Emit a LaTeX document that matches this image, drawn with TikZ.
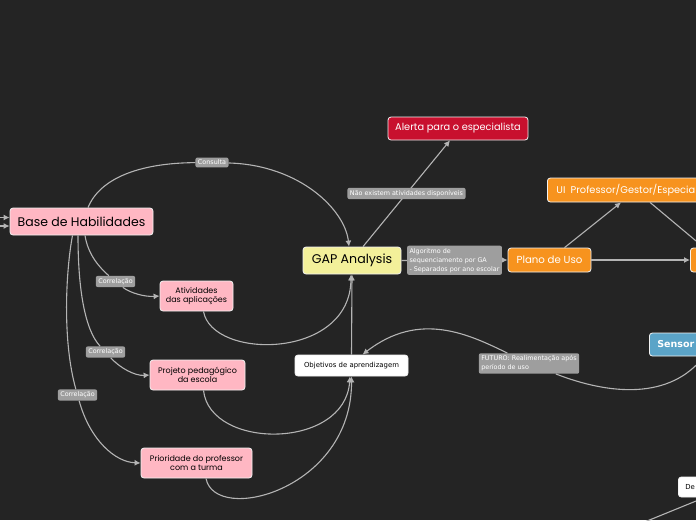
\documentclass[tikz,border=0pt]{standalone}
\usepackage{fontspec}
\setmainfont{DejaVu Sans}
\newfontfamily\popfont{Poppins}
\usetikzlibrary{arrows.meta,positioning}

\definecolor{bgdark}{HTML}{242424}
\definecolor{wire}{HTML}{B4B4B4}
\definecolor{tagfill}{HTML}{9E9E9E}
\definecolor{pinkbox}{HTML}{FFB7C3}
\definecolor{gapyellow}{HTML}{F3F09A}
\definecolor{alertred}{HTML}{C8102E}
\definecolor{planorange}{HTML}{F7931E}
\definecolor{sensorblue}{HTML}{5BA4C8}

\begin{document}
\begin{tikzpicture}[x=1pt, y=-1pt, >={Latex[length=6pt,width=6pt]},
  topic/.style={draw=white!90!gray, line width=0.8pt, rounded corners=3pt, inner sep=0pt, align=center, font=\popfont\fontsize{8}{9}\selectfont},
  pinktopic/.style={topic, fill=pinkbox, text=black},
  orangetopic/.style={topic, fill=planorange, text=white, font=\popfont\fontsize{10.2}{12}\selectfont},
  whitetopic/.style={topic, fill=white, text=black, font=\fontsize{6.9}{8}\selectfont},
  tag/.style={fill=tagfill, rounded corners=2pt, text=white, inner xsep=2.5pt, inner ysep=2.5pt, align=left, font=\fontsize{6.4}{9}\selectfont},
  link/.style={draw=wire, line width=1.1pt}]

\useasboundingbox (0,0) rectangle (696,520);
\fill[bgdark] (0,0) rectangle (696,520);
\clip (0,0) rectangle (696,520);

% main topics
\node[pinktopic, minimum width=143pt, minimum height=27pt, font=\popfont\fontsize{12.5}{14}\selectfont] (base) at (81.5,221.5) {Base de Habilidades};
\node[topic, fill=gapyellow, minimum width=98pt, minimum height=27pt, font=\popfont\fontsize{12.6}{14}\selectfont] (gap) at (352,260.5) {GAP Analysis};
\node[topic, fill=alertred, text=white, minimum width=140pt, minimum height=23pt, font=\popfont\fontsize{9.8}{11}\selectfont] (alerta) at (458,128.5) {Alerta para o especialista};
\node[orangetopic, minimum width=83pt, minimum height=24pt] (plano) at (549.5,260) {Plano de Uso};
\node[orangetopic, anchor=west, minimum height=24pt, inner xsep=9pt, font=\popfont\fontsize{9.8}{11}\selectfont] (ui) at (547,190) {UI\ \ Professor/Gestor/Especia};
\node[orangetopic, anchor=west, minimum width=30pt, minimum height=24pt] (orng) at (690,260) {};
\node[topic, fill=sensorblue, text=white, anchor=west, minimum height=23pt, inner xsep=8pt, font=\bfseries\fontsize{9.5}{11}\selectfont] (sensor) at (649,344.5) {Sensor};
\node[whitetopic, anchor=west, minimum height=20pt, inner xsep=7pt] (de) at (678,487) {De};

% sub topics
\node[pinktopic, minimum width=73pt, minimum height=30pt] (ativ) at (196.5,296) {Atividades\\das aplicações};
\node[pinktopic, minimum width=95pt, minimum height=30pt] (proj) at (197.5,375) {Projeto pedagógico\\da escola};
\node[pinktopic, minimum width=111pt, minimum height=30pt] (prio) at (196.5,463) {Prioridade do professor\\com a turma};
\node[whitetopic, minimum width=113pt, minimum height=21pt] (obj) at (351.5,365.5) {Objetivos de aprendizagem};

% relation labels
\node[tag] (consulta) at (212,162.5) {Consulta};
\node[tag] (corr1) at (115.5,281.5) {Correlação};
\node[tag] (corr2) at (105.5,352) {Correlação};
\node[tag] (corr3) at (77.5,395) {Correlação};
\node[tag] (futuro) at (529,363.5) {FUTURO: Realimentação após\\período de uso};

\coordinate (in1) at (-20,217.5);
\coordinate (in2) at (-20,226);
\coordinate (deout) at (620,532);

% connectors
\draw[link, ->] (in1) -- ([yshift=4pt]base.west);
\draw[link, ->] (in2) -- ([yshift=-4.5pt]base.west);
\draw[link] ([xshift=6.5pt]base.north) .. controls (100,178) and (140,163) .. (consulta);
\draw[link, ->] (consulta) .. controls (300,165) and (345,210) .. ([xshift=-3pt]gap.north);
\draw[link] ([xshift=3.5pt]base.south) .. controls (88,255) and (100,268) .. (corr1);
\draw[link, ->] (corr1) .. controls (130,293) and (145,297) .. (ativ.west);
\draw[link] ([xshift=-3.5pt]base.south) .. controls (78,290) and (85,330) .. (corr2);
\draw[link, ->] (corr2) .. controls (120,368) and (135,376) .. (proj.west);
\draw[link] ([xshift=-9pt]base.south) .. controls (66,270) and (62,340) .. (corr3);
\draw[link, ->] (corr3) .. controls (90,440) and (115,462) .. (prio.west);
\draw[link, ->] ([xshift=7pt]ativ.south) .. controls (212,360) and (350,360) .. ([xshift=-1pt]gap.south);
\draw[link, ->] ([xshift=6pt]proj.south) .. controls (210,450) and (345,450) .. ([xshift=-1.5pt]obj.south);
\draw[link, ->] ([xshift=9.5pt]prio.south) .. controls (215,525) and (352,490) .. (obj.south);
\draw[link, ->] (obj.north) -- (gap.south);
\draw[link, ->] ([xshift=11pt]gap.north) -- ([xshift=-8pt]alerta.south)
  node[tag, midway] (naoexiste) {Não existem atividades disponíveis};
\draw[link, ->] (gap.east) -- (plano.west)
  node[tag, midway] (algo) {Algoritmo de\\sequenciamento por GA\\- Separados por ano escolar};
\draw[link, ->] ([xshift=15pt]plano.north) -- ([xshift=74pt]ui.south west);
\draw[link, ->] (plano.east) -- (orng.west);
\draw[link] ([xshift=103pt]ui.south west) -- ([xshift=14pt]orng.north west);
\draw[link] ([xshift=55pt]sensor.south west) .. controls (670,400) and (610,395) .. (futuro);
\draw[link, ->] (futuro) .. controls (470,335) and (420,310) .. ([xshift=11pt]obj.north);
\draw[link] ([xshift=22pt,yshift=-2pt]de.south west) -- (deout);
\end{tikzpicture}
\end{document}
